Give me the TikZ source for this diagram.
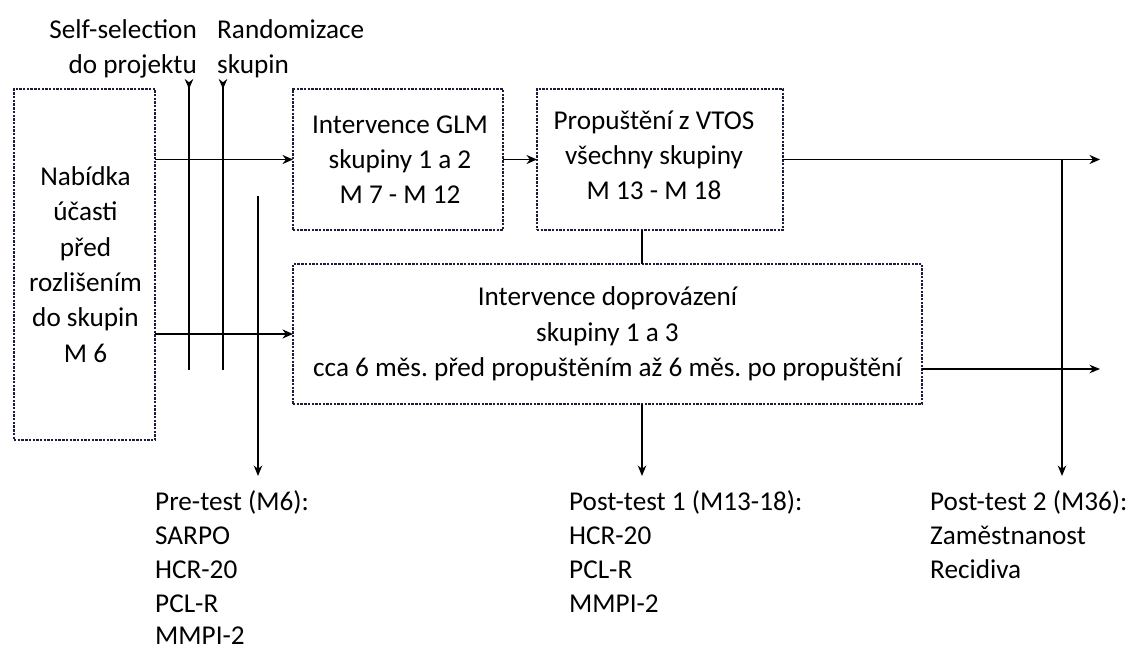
\documentclass[tikz,border=0pt]{standalone}
\usepackage{fontspec}
\setmainfont{Carlito}
\usetikzlibrary{arrows.meta}
\definecolor{boxcol}{RGB}{25,30,65}
\begin{document}
\frenchspacing
\begin{tikzpicture}[x=1pt,y=-1pt,
  box/.style={draw=boxcol, line width=1.5pt, dash pattern=on 2.4pt off 1.3pt, inner sep=0pt, outer sep=0pt},
  txt/.style={font=\fontsize{27.2}{35.3}\selectfont, align=center, inner sep=0pt},
  lbl/.style={font=\fontsize{27.2}{34}\selectfont, inner sep=0pt},
  arr/.style={line width=1.9pt, -{Stealth[length=10.5pt,width=9pt]}},
  darr/.style={line width=1.5pt, -{Stealth[length=10.5pt,width=8.5pt]}},
  ln/.style={line width=1.5pt},
  rarr/.style={line width=1.8pt, {Stealth[length=10pt,width=8.5pt,reversed]}-}]
\useasboundingbox (0,0) rectangle (1134,648);

% boxes
\node[box, minimum width=141pt, minimum height=351pt] (nab) at (84.5,264.5) {};
\node[box, minimum width=210pt, minimum height=141pt] (glm) at (398,159.5) {};
\node[box, minimum width=246pt, minimum height=141pt] (vtos) at (660,159.5) {};
\node[box, minimum width=629pt, minimum height=140pt] (dop) at (607.5,334) {};

% box texts
\node[txt] (nabt) at ([xshift=1pt]nab.center) {Nabídka\\účasti\\před\\rozlišením\\do skupin\\M 6};
\node[txt] (glmt) at ([xshift=2pt]glm.center) {Intervence GLM\\skupiny 1 a 2\\M 7 - M 12};
\node[txt] (vtost) at ([xshift=-6pt,yshift=4pt]vtos.center) {Propuštění z VTOS\\všechny skupiny\\M 13 - M 18};
\node[txt] (dopt) at (dop) {Intervence doprovázení\\skupiny 1 a 3\\cca 6 měs. před propuštěním až 6 měs. po propuštění};

% top labels
\node[lbl, anchor=base east] (ss1) at (197,38) {Self-selection};
\node[lbl, anchor=base east] (ss2) at (197,73) {do projektu};
\node[lbl, anchor=base west] (rd1) at (217,38) {Randomizace};
\node[lbl, anchor=base west] (rd2) at (217,73) {skupin};

% bottom labels
\node[lbl, anchor=base west] (pre1) at (155,510) {Pre-test (M6):};
\node[lbl, anchor=base west] (pre2) at (155,544) {SARPO};
\node[lbl, anchor=base west] (pre3) at (155,578) {HCR-20};
\node[lbl, anchor=base west] (pre4) at (155,612) {PCL-R};
\node[lbl, anchor=base west] (pre5) at (155,644.5) {MMPI-2};

\node[lbl, anchor=base west] (po1) at (569,510) {Post-test 1 (M13-18):};
\node[lbl, anchor=base west] (po2) at (569,544) {HCR-20};
\node[lbl, anchor=base west] (po3) at (569,578) {PCL-R};
\node[lbl, anchor=base west] (po4) at (569,612) {MMPI-2};

\node[lbl, anchor=base west] (pt1) at (930,510) {Post-test 2 (M36):};
\node[lbl, anchor=base west] (pt2) at (930,544) {Zaměstnanost};
\node[lbl, anchor=base west] (pt3) at (930,578) {Recidiva};

% coordinates
\coordinate (sstop) at (189,79);
\coordinate (ssbot) at (189,370);
\coordinate (rdtop) at (223,79);
\coordinate (rdbot) at (223,370);
\coordinate (pretop) at (258,196);
\coordinate (preend) at (258,476);
\coordinate (p1end) at (642,476);
\coordinate (p2end) at (1062,476);
\coordinate (r1) at (1100,159.5);
\coordinate (r2) at (1100,369);

% connectors
\draw[arr] (nab.east |- glm.west) -- (glm.west);
\draw[arr] (nab.east |- dop.west) -- (dop.west);
\draw[arr] (glm.east) -- (vtos.west);
\draw[arr] (vtos.east) -- (r1);
\draw[darr] (dop.east |- r2) -- (r2);
\draw[darr] (p2end |- vtos.east) -- (p2end);
\draw[ln] (vtos.south -| p1end) -- (dop.north -| p1end);
\draw[darr] (dop.south -| p1end) -- (p1end);
\draw[darr] (pretop) -- (preend);
\draw[rarr] (sstop) -- (ssbot);
\draw[rarr] (rdtop) -- (rdbot);
\end{tikzpicture}
\end{document}
